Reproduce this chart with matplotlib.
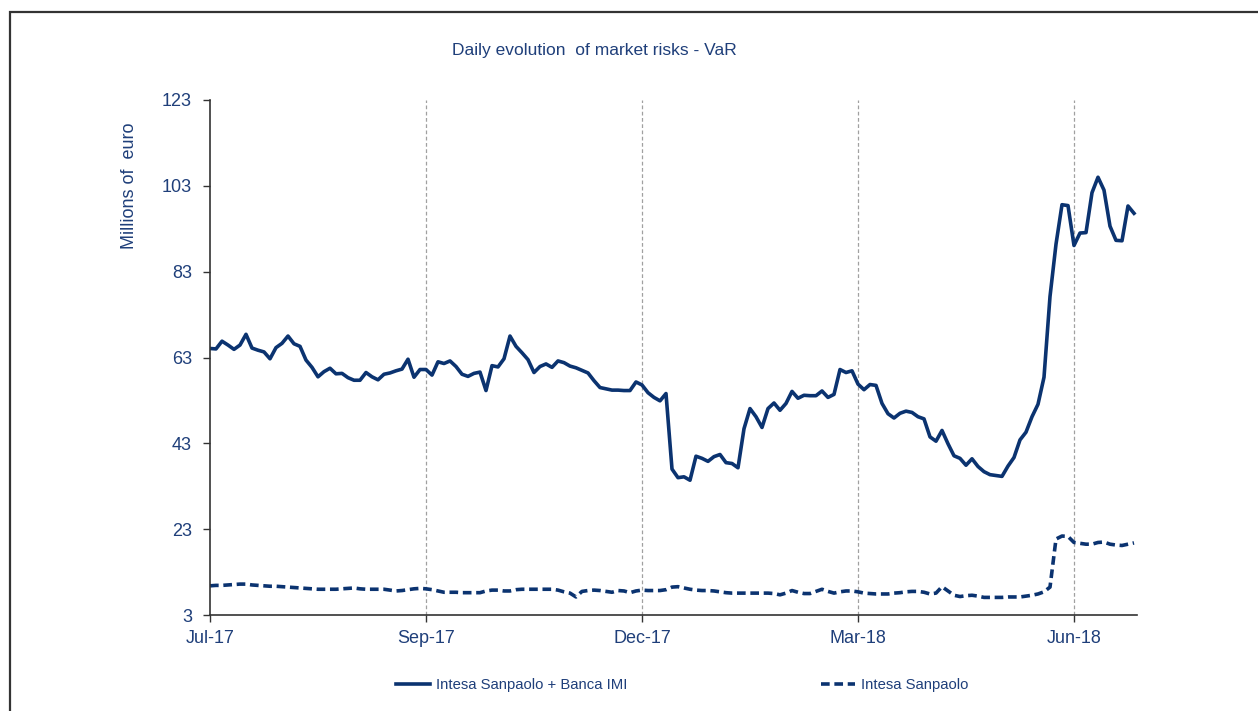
import matplotlib
matplotlib.use("Agg")
import matplotlib.pyplot as plt
import matplotlib.patches as patches
import numpy as np

plt.rcParams['font.family'] = ['Liberation Sans', 'DejaVu Sans']

# VaR, millions of euro (one reading every ~2 trading days, Jul-17 .. Jun-18)
var_group = [65.1, 65.0, 66.8, 65.9, 64.9, 65.9, 68.4, 65.2, 64.7, 64.3,
             62.7, 65.3, 66.3, 68.0, 66.2, 65.6, 62.4, 60.7, 58.5, 59.7,
             60.5, 59.2, 59.3, 58.3, 57.7, 57.7, 59.5, 58.5, 57.8, 59.1,
             59.4, 59.9, 60.3, 62.6, 58.4, 60.2, 60.2, 58.9, 62.0, 61.6,
             62.2, 60.9, 59.1, 58.6, 59.3, 59.6, 55.3, 61.1, 60.8, 62.7,
             68.0, 65.6, 64.1, 62.5, 59.5, 60.9, 61.5, 60.7, 62.2, 61.8,
             61.0, 60.6, 60.0, 59.4, 57.6, 56.0, 55.7, 55.4, 55.4, 55.3,
             55.3, 57.3, 56.6, 54.8, 53.7, 52.9, 54.6, 37.0, 35.0, 35.2,
             34.4, 40.0, 39.5, 38.8, 39.9, 40.4, 38.5, 38.3, 37.3, 46.4,
             51.1, 49.2, 46.7, 51.1, 52.4, 50.7, 52.3, 55.1, 53.5, 54.2,
             54.1, 54.1, 55.2, 53.7, 54.4, 60.2, 59.5, 59.9, 56.8, 55.5,
             56.7, 56.5, 52.3, 49.9, 48.9, 50.0, 50.5, 50.2, 49.2, 48.7,
             44.5, 43.5, 46.0, 42.9, 40.1, 39.5, 37.9, 39.4, 37.6, 36.4,
             35.7, 35.5, 35.3, 37.7, 39.7, 43.8, 45.6, 49.2, 52.1, 58.4,
             77.2, 89.4, 98.6, 98.4, 89.1, 92.0, 92.1, 101.4, 105.0, 102.0,
             93.6, 90.3, 90.2, 98.3, 96.6]

var_isp = [9.8, 9.9, 9.9, 10.0, 10.1, 10.2, 10.2, 10.0, 9.9, 9.8,
           9.7, 9.7, 9.6, 9.5, 9.4, 9.3, 9.2, 9.1, 9.0, 9.0,
           9.0, 9.0, 9.1, 9.2, 9.3, 9.1, 9.0, 9.0, 9.0, 9.0,
           8.8, 8.6, 8.7, 8.9, 9.1, 9.2, 9.1, 8.9, 8.6, 8.3,
           8.3, 8.3, 8.2, 8.2, 8.2, 8.2, 8.6, 8.8, 8.8, 8.6,
           8.6, 8.9, 9.0, 9.0, 9.0, 9.0, 9.0, 9.0, 8.8, 8.4,
           8.1, 7.2, 8.5, 8.7, 8.8, 8.7, 8.5, 8.3, 8.7, 8.6,
           8.2, 8.6, 8.8, 8.7, 8.7, 8.7, 8.9, 9.5, 9.6, 9.3,
           9.0, 8.8, 8.7, 8.7, 8.6, 8.4, 8.2, 8.1, 8.1, 8.1,
           8.1, 8.1, 8.1, 8.1, 8.0, 7.7, 8.1, 8.7, 8.3, 8.0,
           8.0, 8.5, 9.0, 8.5, 8.1, 8.4, 8.6, 8.6, 8.4, 8.1,
           8.0, 7.9, 7.9, 7.9, 8.1, 8.2, 8.4, 8.5, 8.5, 8.3,
           7.9, 8.1, 9.6, 8.6, 7.6, 7.3, 7.5, 7.6, 7.4, 7.1,
           7.1, 7.1, 7.1, 7.2, 7.2, 7.2, 7.4, 7.6, 7.9, 8.4,
           9.5, 20.7, 21.4, 21.3, 19.9, 19.7, 19.5, 19.5, 19.9, 20.0,
           19.5, 19.3, 19.2, 19.5, 19.8]

month_labels = ['Jul-17', 'Sep-17', 'Dec-17', 'Mar-18', 'Jun-18']
month_pos = [0, 36, 72, 108, 144]
y_ticks = [3, 23, 43, 63, 83, 103, 123]

navy = '#0b3370'
text_col = '#1f3f7a'

x = np.arange(len(var_group))

fig = plt.figure(figsize=(12.58, 7.11), dpi=100)
ax = fig.add_axes([210 / 1258, 1 - 615 / 711, 927 / 1258, 515 / 711])

l1, = ax.plot(x, var_group, color=navy, lw=2.6, solid_joinstyle='round',
              label='Intesa Sanpaolo + Banca IMI')
l2, = ax.plot(x, var_isp, color=navy, lw=2.6, linestyle=(0, (2.4, 1.3)),
              label='Intesa Sanpaolo')

ax.set_xlim(0, 154.5)
ax.set_ylim(3, 123)
ax.set_yticks(y_ticks)
ax.set_xticks(month_pos, labels=month_labels)

for p in month_pos[1:]:
    ax.axvline(p, color='#a0a0a0', lw=0.9, linestyle=(0, (3, 2)), zorder=0)

for s in ['top', 'right']:
    ax.spines[s].set_visible(False)
for s in ['left', 'bottom']:
    ax.spines[s].set_color('#333333')
    ax.spines[s].set_linewidth(1.2)

ax.tick_params(axis='both', direction='out', length=5, width=1, color='#333333',
               labelcolor=text_col, labelsize=13)
ax.tick_params(axis='x', pad=6)
ax.tick_params(axis='y', pad=8)

fig.text(594 / 1258, 1 - 50 / 711, 'Daily evolution  of market risks - VaR',
         ha='center', va='center', fontsize=12.5, color=text_col)
fig.text(130 / 1258, 1 - 186 / 711, 'Millions of  euro', rotation=90,
         ha='center', va='center', fontsize=13, color=text_col)

leg1 = fig.legend(handles=[l1], loc='center left', bbox_to_anchor=(396 / 1258, 1 - 685 / 711),
                  frameon=False, fontsize=10.7, handlelength=2.3, handletextpad=0.4,
                  borderaxespad=0, borderpad=0)
for t in leg1.get_texts():
    t.set_color(text_col)
leg2 = fig.legend(handles=[l2], loc='center left', bbox_to_anchor=(821 / 1258, 1 - 685 / 711),
                  frameon=False, fontsize=10.7, handlelength=2.3, handletextpad=0.4,
                  borderaxespad=0, borderpad=0)
for t in leg2.get_texts():
    t.set_color(text_col)

frame = patches.Rectangle((10 / 1258, -0.1), 1.2, 1.1 - 12 / 711, transform=fig.transFigure,
                          fill=False, edgecolor='#333333', lw=1.6, clip_on=False)
fig.add_artist(frame)

fig.savefig('out.png', dpi=100)
